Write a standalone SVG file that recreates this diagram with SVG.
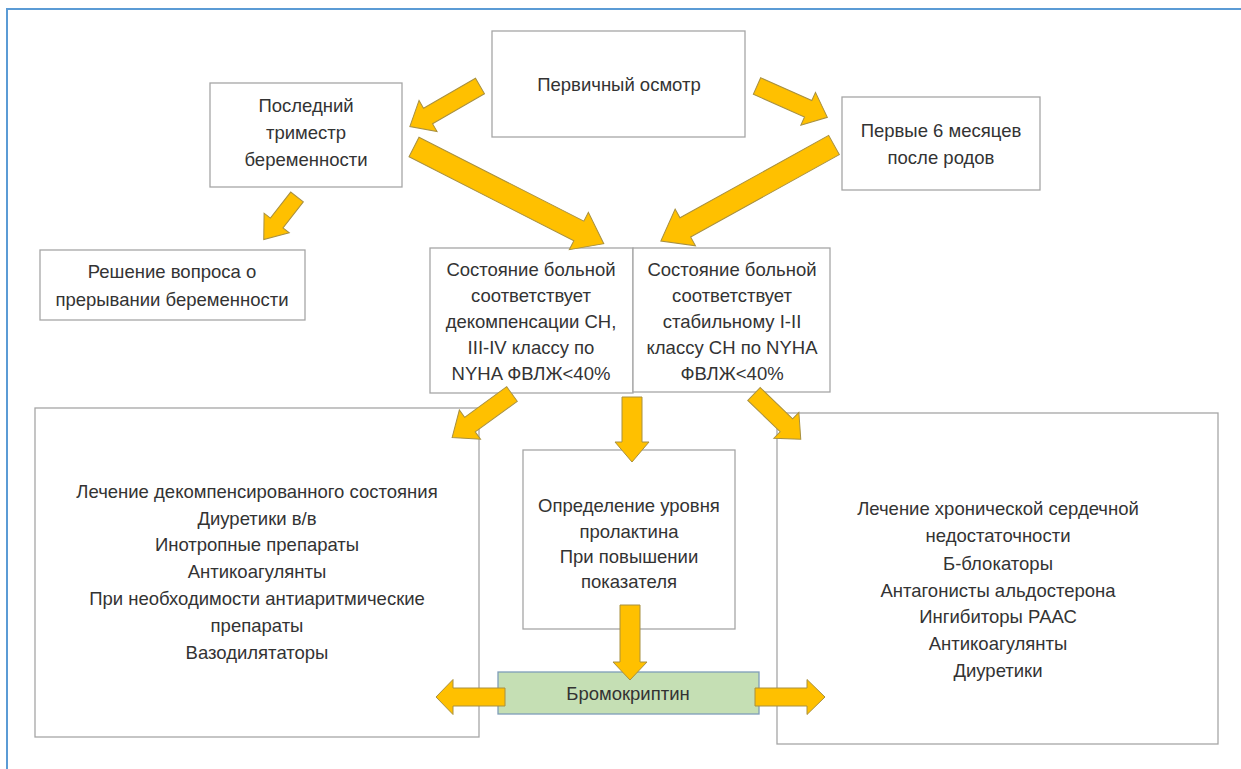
<svg xmlns="http://www.w3.org/2000/svg" width="1241" height="769" viewBox="0 0 1241 769">
<defs>
<style>
.box{fill:#ffffff;stroke:#a6a6a6;stroke-width:1.3}
.grn{fill:#c5dfb4;stroke:#7f9db9;stroke-width:1.3}
.t{font-family:"Liberation Sans",Arial,sans-serif;font-size:18.5px;fill:#333333;text-anchor:middle}
.arr{fill:#ffc000;stroke:#a89040;stroke-width:1}
</style>
</defs>
<rect x="0" y="0" width="1241" height="769" fill="#ffffff"/>
<rect x="7" y="9" width="1250" height="780" fill="none" stroke="#5b9bd5" stroke-width="2"/>

<g id="n-primary"><rect class="box" x="492" y="31" width="253" height="106"/><text class="t" x="619" y="91">Первичный осмотр</text></g>
<g id="n-trimester"><rect class="box" x="210" y="83" width="192" height="104"/><text class="t" x="306" y="112">Последний</text><text class="t" x="306" y="139">триместр</text><text class="t" x="306" y="166">беременности</text></g>
<g id="n-postpartum"><rect class="box" x="842" y="97" width="198" height="93"/><text class="t" x="941" y="137">Первые 6 месяцев</text><text class="t" x="941" y="164">после родов</text></g>
<g id="n-abort"><rect class="box" x="40" y="250" width="265" height="70"/><text class="t" x="172" y="278">Решение вопроса о</text><text class="t" x="172" y="306">прерывании беременности</text></g>
<g id="n-decomp"><rect class="box" x="430" y="248" width="203" height="145"/><text class="t" x="531" y="276">Состояние больной</text><text class="t" x="531" y="302">соответствует</text><text class="t" x="531" y="328">декомпенсации СН,</text><text class="t" x="531" y="354">III-IV классу по</text><text class="t" x="531" y="380">NYHA ФВЛЖ&lt;40%</text></g>
<g id="n-stable"><rect class="box" x="633" y="248" width="197" height="144"/><text class="t" x="732" y="276">Состояние больной</text><text class="t" x="732" y="302">соответствует</text><text class="t" x="732" y="328">стабильному I-II</text><text class="t" x="732" y="354">классу СН по NYHA</text><text class="t" x="732" y="380">ФВЛЖ&lt;40%</text></g>
<g id="n-treat-decomp"><rect class="box" x="35" y="408" width="444" height="329"/>
<text class="t" x="257" y="498">Лечение декомпенсированного состояния</text>
<text class="t" x="257" y="525">Диуретики в/в</text>
<text class="t" x="257" y="551">Инотропные препараты</text>
<text class="t" x="257" y="578">Антикоагулянты</text>
<text class="t" x="257" y="605">При необходимости антиаритмические</text>
<text class="t" x="257" y="632">препараты</text>
<text class="t" x="257" y="659">Вазодилятаторы</text></g>
<g id="n-prolactin"><rect class="box" x="523" y="450" width="212" height="179"/>
<text class="t" x="629" y="512">Определение уровня</text>
<text class="t" x="629" y="538">пролактина</text>
<text class="t" x="629" y="563">При повышении</text>
<text class="t" x="629" y="588">показателя</text></g>
<g id="n-treat-chronic"><rect class="box" x="777" y="413" width="441" height="331"/>
<text class="t" x="998" y="515">Лечение хронической сердечной</text>
<text class="t" x="998" y="542">недостаточности</text>
<text class="t" x="998" y="570">Б-блокаторы</text>
<text class="t" x="998" y="597">Антагонисты альдостерона</text>
<text class="t" x="998" y="623">Ингибиторы РААС</text>
<text class="t" x="998" y="650">Антикоагулянты</text>
<text class="t" x="998" y="677">Диуретики</text></g>
<g id="n-bromo"><rect class="grn" x="498" y="672" width="261" height="42"/><text class="t" x="628" y="700">Бромокриптин</text></g>

<g id="connectors">
<polygon class="arr" transform="translate(480,86) rotate(150)" points="0,-9 60,-9 60,-18 81,0 60,18 60,9 0,9"/>
<polygon class="arr" transform="translate(757,86) rotate(24)" points="0,-9 56,-9 56,-18 77,0 56,18 56,9 0,9"/>
<polygon class="arr" transform="translate(414,147) rotate(27)" points="0,-11 185,-11 185,-21 213,0 185,21 185,11 0,11"/>
<polygon class="arr" transform="translate(834,145) rotate(151)" points="0,-11 170,-11 170,-21 198,0 170,21 170,11 0,11"/>
<polygon class="arr" transform="translate(297,197) rotate(128)" points="0,-8 33,-8 33,-16 54,0 33,16 33,8 0,8"/>
<polygon class="arr" transform="translate(512,394) rotate(144)" points="0,-9 52,-9 52,-18 74,0 52,18 52,9 0,9"/>
<polygon class="arr" transform="translate(632,397) rotate(90)" points="0,-10 45,-10 45,-17 65,0 45,17 45,10 0,10"/>
<polygon class="arr" transform="translate(754,394) rotate(44)" points="0,-9 45,-9 45,-18 65,0 45,18 45,9 0,9"/>
<polygon class="arr" transform="translate(630,605) rotate(90)" points="0,-10 57,-10 57,-17 75,0 57,17 57,10 0,10"/>
<polygon class="arr" transform="translate(505,697) rotate(180)" points="0,-9 52,-9 52,-17.5 69,0 52,17.5 52,9 0,9"/>
<polygon class="arr" transform="translate(755,697)" points="0,-9 52,-9 52,-17.5 70,0 52,17.5 52,9 0,9"/>
</g>
</svg>
